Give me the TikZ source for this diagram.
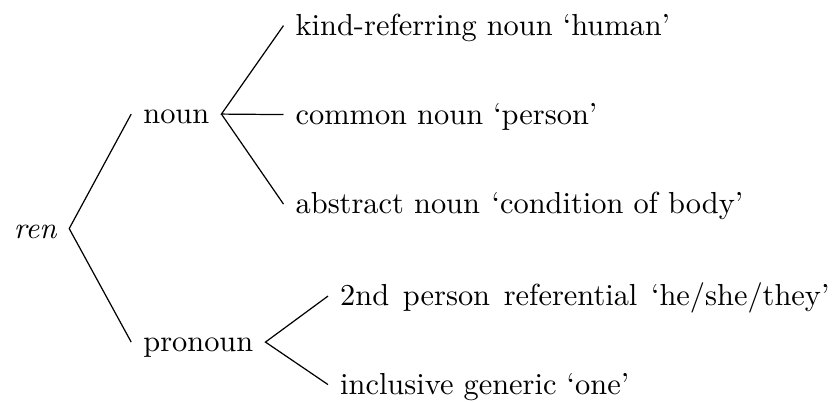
\documentclass[tikz,border=0pt]{standalone}
\begin{document}
\begin{tikzpicture}[x=0.3289pt,y=-0.3289pt,
  lbl/.style={anchor=base west,inner xsep=3.8pt,inner ysep=0pt,
              text height=7.5pt,text depth=1.3pt},
  branch/.style={line width=0.4pt}]
\useasboundingbox (0,0) rectangle (832,401);
% words, placed by baseline
\node[lbl] (ren)   at (1.8,238)   {\textit{ren}};
\node[lbl] (noun)  at (131.2,123.5) {noun};
\node[lbl] (pron)  at (131.2,351.5) {pronoun};
\node[lbl] (kind)  at (283.5,35)  {kind-referring noun ‘human’};
\node[lbl] (comm)  at (283.5,124) {common noun ‘person’};
\node[lbl] (abst)  at (283.5,213.5) {abstract noun\hspace{3.8pt}‘condition of body’};
\node[lbl] (second) at (328,305.5) {2nd\hspace{4.5pt}person\hspace{4.5pt}referential\hspace{4.5pt}‘he/she/they’};
\node[lbl] (incl)  at (328,394) {inclusive generic ‘one’};
% branches
\draw[branch] (noun.west) -- (ren.east) -- (pron.west);
\draw[branch] (kind.west) -- (noun.east) -- (comm.west);
\draw[branch] (noun.east) -- (abst.west);
\draw[branch] (second.west) -- (pron.east) -- (incl.west);
\end{tikzpicture}
\end{document}
